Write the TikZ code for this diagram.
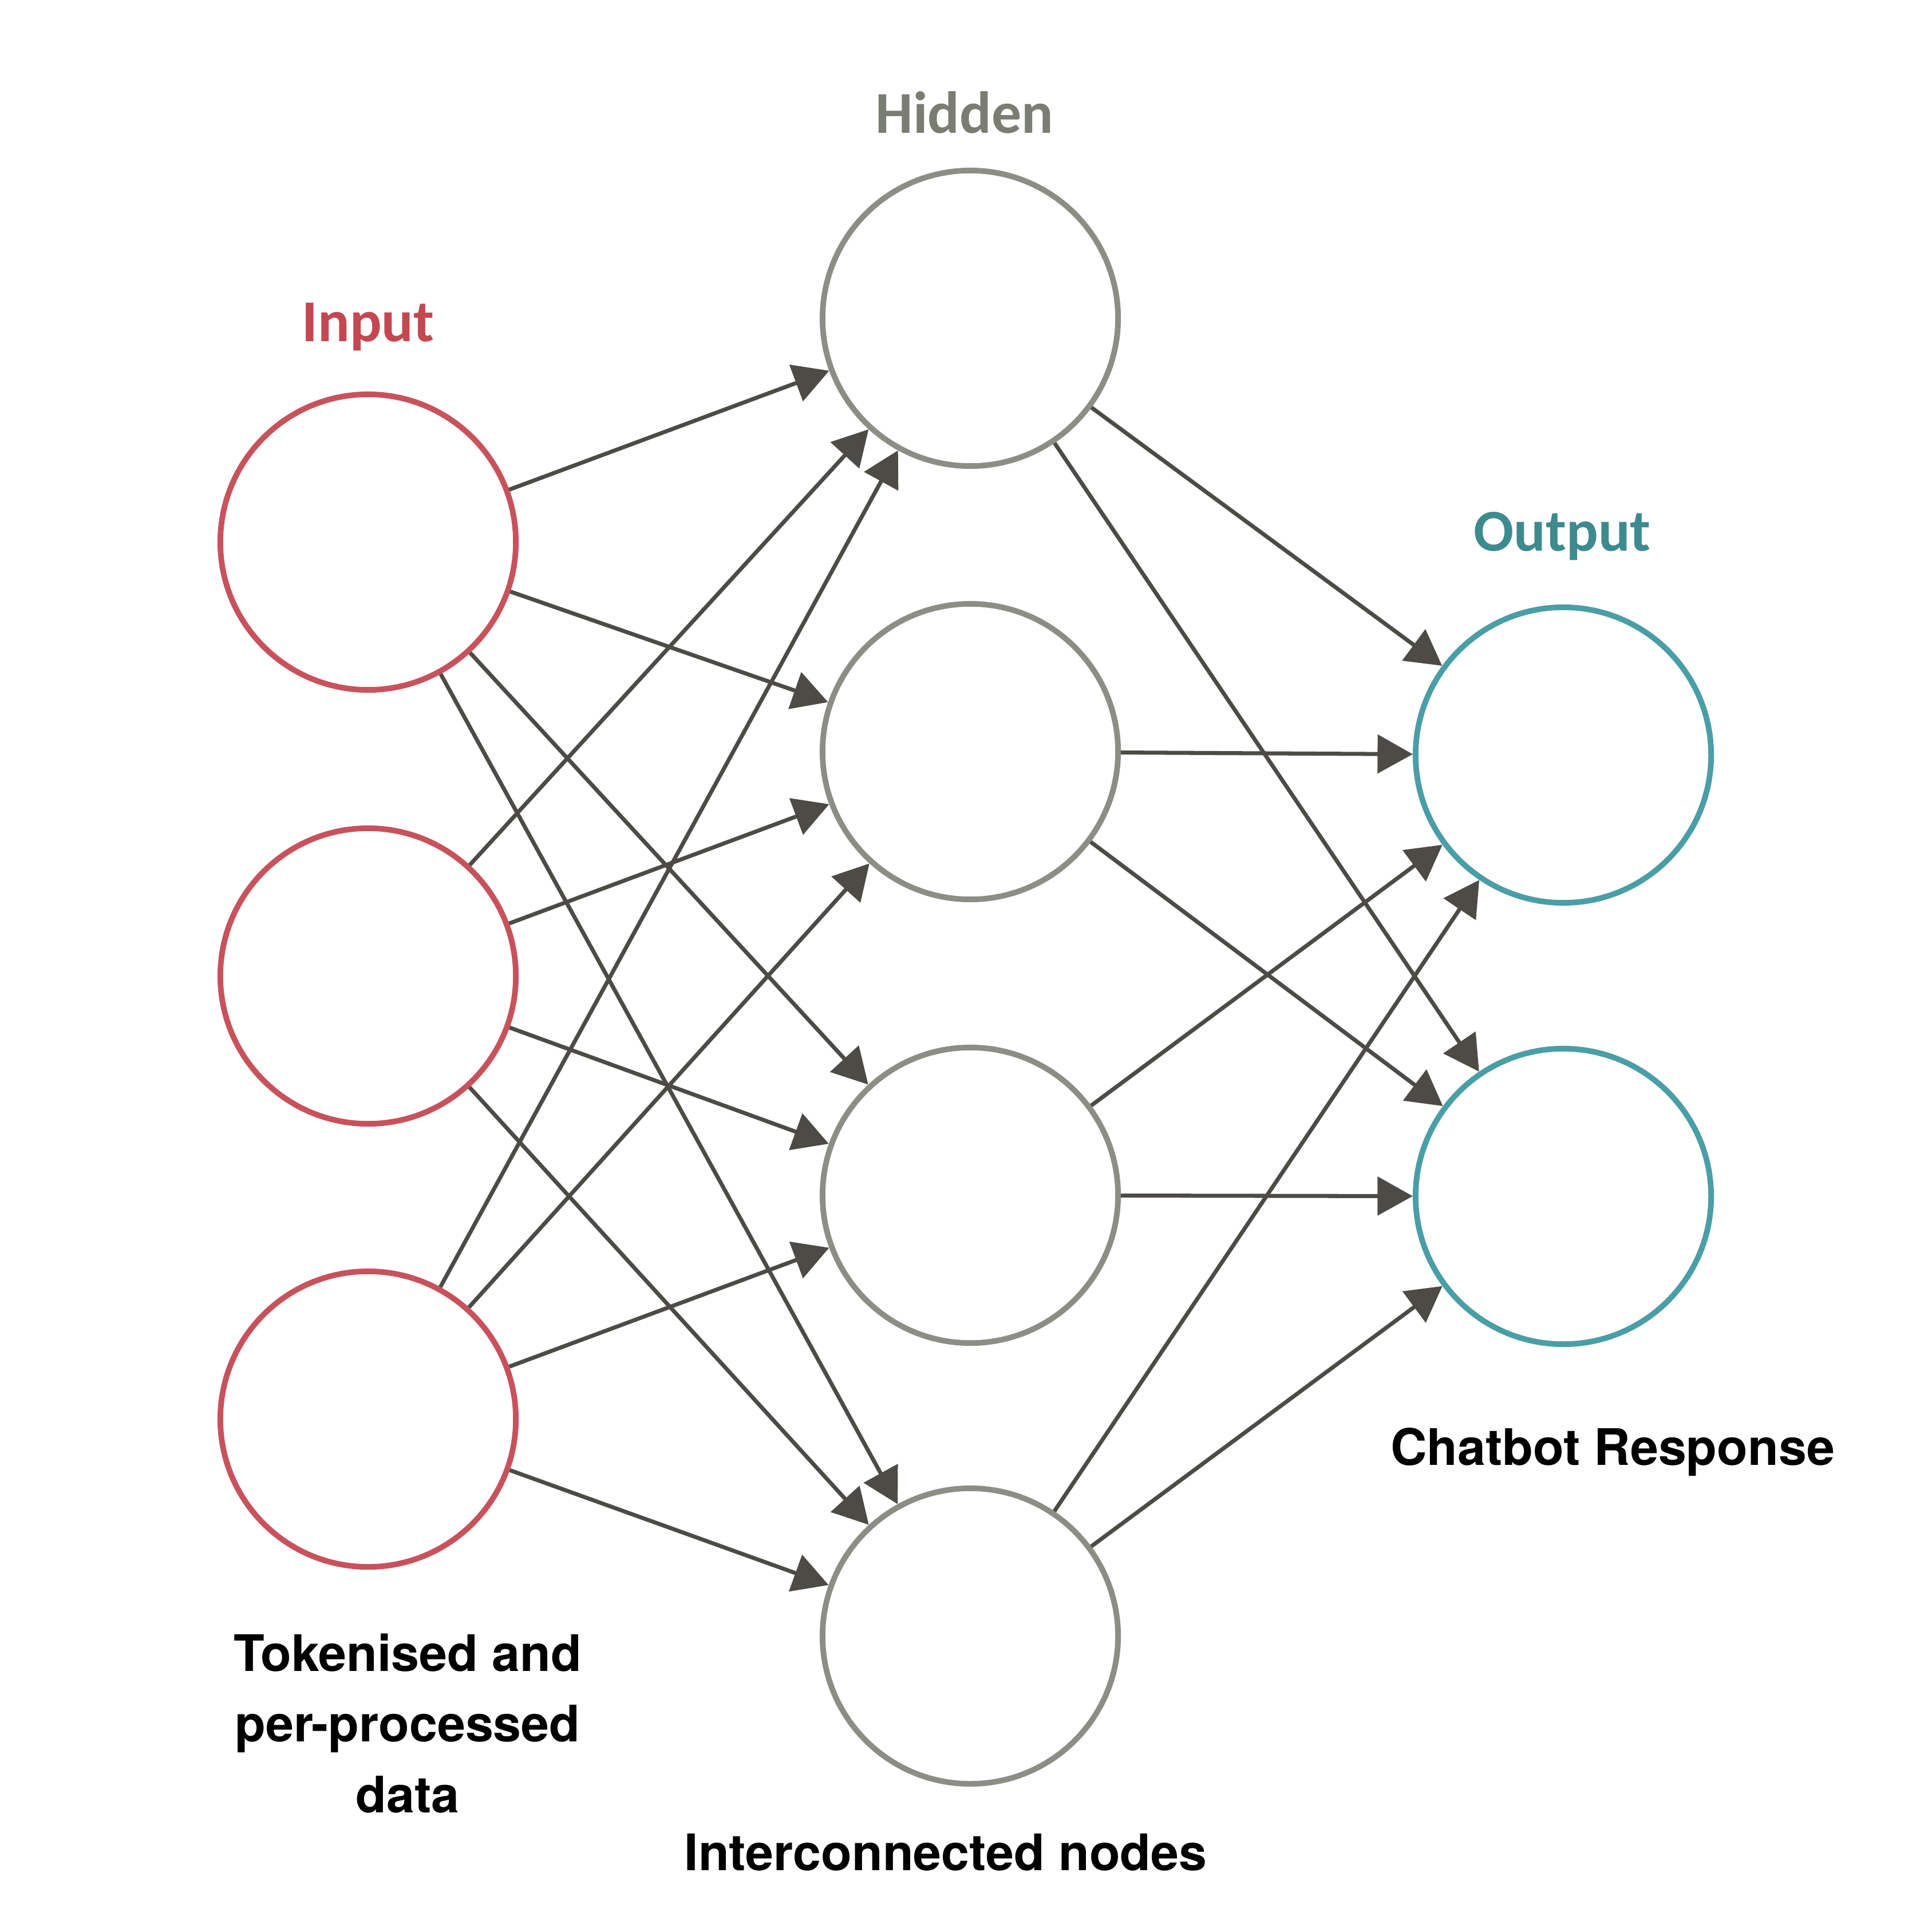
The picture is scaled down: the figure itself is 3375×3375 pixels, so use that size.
\documentclass[tikz,border=0pt]{standalone}
\usepackage{fontspec}
\usetikzlibrary{arrows.meta}
\newfontfamily\toplabelfont{Carlito}
\newfontfamily\botlabelfont{TeX Gyre Heros}
\definecolor{inred}{RGB}{200,82,92}
\definecolor{inredtext}{RGB}{196,72,82}
\definecolor{hidgray}{RGB}{140,142,134}
\definecolor{hidgraytext}{RGB}{122,125,114}
\definecolor{outteal}{RGB}{74,158,166}
\definecolor{outtealtext}{RGB}{61,138,143}
\definecolor{arrowgray}{RGB}{77,75,70}
\begin{document}
\begin{tikzpicture}[x=0.01cm,y=-0.01cm,
  neuron/.style={circle, draw, line width=2.8pt, minimum size=5.16cm, inner sep=0pt, fill=white},
  inneuron/.style={neuron, draw=inred},
  hidneuron/.style={neuron, draw=hidgray},
  outneuron/.style={neuron, draw=outteal},
  toplabel/.style={font=\toplabelfont\bfseries\fontsize{29.5pt}{35pt}\selectfont, anchor=base, inner sep=0pt},
  botlabel/.style={font=\botlabelfont\bfseries\fontsize{25pt}{35pt}\selectfont, anchor=base, inner sep=0pt, align=center},
  conn/.style={draw=arrowgray, line width=2pt, -{Triangle[length=17.5pt,width=19pt]}, fill=arrowgray}
]
\useasboundingbox[fill=white] (0,0) rectangle (3375,3375);

% neurons
\node[inneuron] (i1) at (643,947) {};
\node[inneuron] (i2) at (643,1705) {};
\node[inneuron] (i3) at (643,2479) {};
\node[hidneuron] (h1) at (1695,556) {};
\node[hidneuron] (h2) at (1695,1313) {};
\node[hidneuron] (h3) at (1695,2088) {};
\node[hidneuron] (h4) at (1695,2858) {};
\node[outneuron] (o1) at (2731,1319) {};
\node[outneuron] (o2) at (2731,2090) {};

% connections
\foreach \a in {1,2,3}{
  \foreach \b in {1,2,3,4}{
    \draw[conn] (i\a) -- (h\b);
  }
}
\foreach \a in {1,2,3,4}{
  \foreach \b in {1,2}{
    \draw[conn] (h\a) -- (o\b);
  }
}

% layer labels
\node[toplabel, text=inredtext] (lin) at (643,596) {Input};
\node[toplabel, text=hidgraytext] (lhid) at (1685,232) {Hidden};
\node[toplabel, text=outtealtext] (lout) at (2729,962) {Output};

% captions (base anchor = baseline of the last line)
\node[botlabel] (cin) at (712,3166) {Tokenised and\\per-processed\\data};
\node[botlabel] (chid) at (1652,3267) {Interconnected nodes};
\node[botlabel] (cout) at (2817,2559) {Chatbot Response};
\end{tikzpicture}
\end{document}
